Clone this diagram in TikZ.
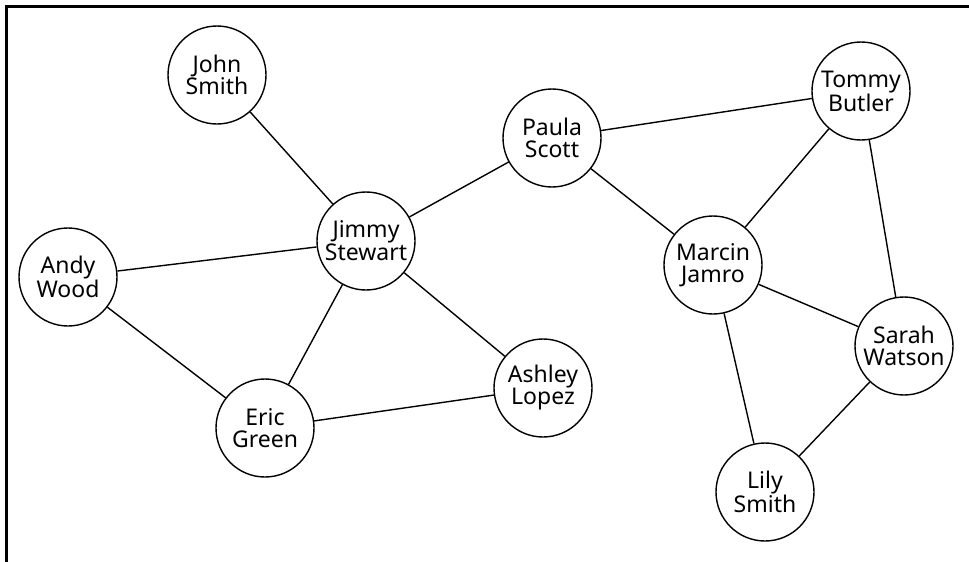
\documentclass[tikz,border=0pt]{standalone}
\usepackage{fontspec}
\setmainfont{Noto Sans}
\begin{document}
\begin{tikzpicture}[x=1pt,y=-1pt,
  person/.style={circle,draw,line width=1.4pt,minimum size=98pt,inner sep=0pt,
    align=center,font=\fontsize{23}{22}\selectfont},
  link/.style={line width=1.4pt},
  frameline/.style={line width=3pt}]
\useasboundingbox (0,0) rectangle (969,562);
% frame along the top and left edges
\coordinate (fbl) at (6,563);
\coordinate (ftl) at (6,6);
\coordinate (ftr) at (970,6);
\draw[frameline] (fbl) -- (ftl) -- (ftr);
% people
\node[person] (john) at (217,75) {John\\Smith};
\node[person] (jimmy) at (366,241) {Jimmy\\Stewart};
\node[person] (andy) at (68,277) {Andy\\Wood};
\node[person] (eric) at (265,428) {Eric\\Green};
\node[person] (ashley) at (543,388) {Ashley\\Lopez};
\node[person] (paula) at (552,138) {Paula\\Scott};
\node[person] (tommy) at (861,91) {Tommy\\Butler};
\node[person] (marcin) at (713,265) {Marcin\\Jamro};
\node[person] (sarah) at (904,346) {Sarah\\Watson};
\node[person] (lily) at (765,492) {Lily\\Smith};
% connections
\draw[link] (john) -- (jimmy);
\draw[link] (jimmy) -- (paula);
\draw[link] (jimmy) -- (andy);
\draw[link] (jimmy) -- (eric);
\draw[link] (jimmy) -- (ashley);
\draw[link] (andy) -- (eric);
\draw[link] (eric) -- (ashley);
\draw[link] (paula) -- (tommy);
\draw[link] (paula) -- (marcin);
\draw[link] (tommy) -- (marcin);
\draw[link] (tommy) -- (sarah);
\draw[link] (marcin) -- (sarah);
\draw[link] (marcin) -- (lily);
\draw[link] (sarah) -- (lily);
\end{tikzpicture}
\end{document}
